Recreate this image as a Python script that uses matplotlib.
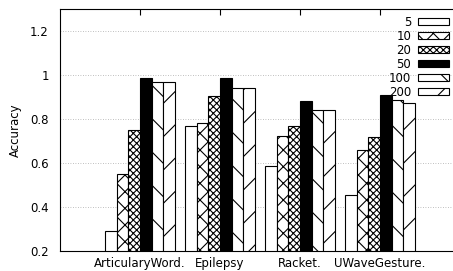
import numpy as np
import matplotlib.pyplot as plt

plt.rcParams['hatch.linewidth'] = 0.8

datasets = ['ArticularyWord.', 'Epilepsy', 'Racket.', 'UWaveGesture.']
tamanhos = ['5', '10', '20', '50', '100', '200']
acc_5 = [0.29, 0.767, 0.588, 0.456]
acc_10 = [0.548, 0.782, 0.725, 0.66]
acc_20 = [0.75, 0.905, 0.766, 0.716]
acc_50 = [0.987, 0.987, 0.883, 0.907]
acc_100 = [0.969, 0.94, 0.843, 0.888]
acc_200 = [0.966, 0.94, 0.843, 0.873]

series = [acc_5, acc_10, acc_20, acc_50, acc_100, acc_200]
cores = ['white', 'white', 'white', 'black', 'white', 'white']
hachuras = [None, 'xx', 'xxxxx', None, '\\', '/']

fig = plt.figure(figsize=(4.53, 2.71), dpi=100)
ax = fig.add_axes([60 / 453, 20 / 271, 400 / 453, 242 / 271])

x = np.arange(len(datasets))
w = 0.144
for i, vals in enumerate(series):
    pos = x + (i - 2.5) * w
    ax.bar(pos, np.array(vals) - 0.2, w, bottom=0.2, color=cores[i], edgecolor='black',
           hatch=hachuras[i], linewidth=0.8, label=tamanhos[i], zorder=3)

ax.set_xlim(-1, 4)
ax.set_ylim(0.2, 1.3)
ax.set_xticks(x)
ax.set_xticklabels(datasets, fontsize=8.5)
ax.set_yticks([0.2, 0.4, 0.6, 0.8, 1.0, 1.2])
ax.set_yticklabels(['0.2', '0.4', '0.6', '0.8', '1', '1.2'], fontsize=8.5)
ax.set_ylabel('Accuracy', fontsize=8.5, labelpad=6)
ax.grid(axis='y', linestyle=(0, (1, 2)), color='#aaaaaa', linewidth=0.6, zorder=0)
ax.tick_params(direction='in', top=True, bottom=False, left=False, right=False, length=4)
ax.tick_params(axis='x', pad=4)
ax.tick_params(axis='y', pad=8)

leg = ax.legend(loc='upper right', bbox_to_anchor=(449 / 453, 1 - 16 / 271),
                bbox_transform=fig.transFigure, frameon=False, markerfirst=False,
                fontsize=8.5, handlelength=2.6, handleheight=0.5, labelspacing=0.08,
                handletextpad=0.6, borderaxespad=0, borderpad=0)

fig.savefig('out.png', dpi=100)
